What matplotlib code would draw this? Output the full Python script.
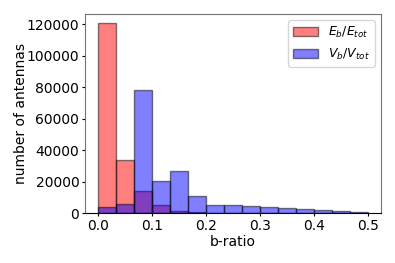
import numpy as np
import matplotlib
matplotlib.use("Agg")
import matplotlib.pyplot as plt

# 15 bins from 0 to 0.5
edges = np.linspace(0, 0.5, 16)
centers = (edges[:-1] + edges[1:]) / 2

e_counts = [120400, 33600, 13700, 4900, 1600, 500, 150, 80, 50, 30, 20, 10, 5, 0, 0]
v_counts = [3600, 5500, 78000, 20300, 26500, 10600, 5100, 4900, 4500, 3900, 3400, 2500, 1700, 1100, 450]

fig = plt.figure(figsize=(3.95, 2.63), dpi=100)
ax = fig.add_axes([0.215, 0.19, 0.75, 0.757])

ax.hist(centers, bins=edges, weights=e_counts, color='red', alpha=0.5,
        edgecolor='black', label=r'$E_b/E_{tot}$')
ax.hist(centers, bins=edges, weights=v_counts, color='blue', alpha=0.5,
        edgecolor='black', label=r'$V_b/V_{tot}$')

for s in ['top', 'right', 'left']:
    ax.spines[s].set_color('0.45')
ax.tick_params(length=2.5, pad=1.5)

ax.set_xlabel('b-ratio', labelpad=2)
ax.set_ylabel('number of antennas', labelpad=-1)
ax.legend(loc='upper right', fontsize=9)

fig.savefig('out.png', dpi=100)
